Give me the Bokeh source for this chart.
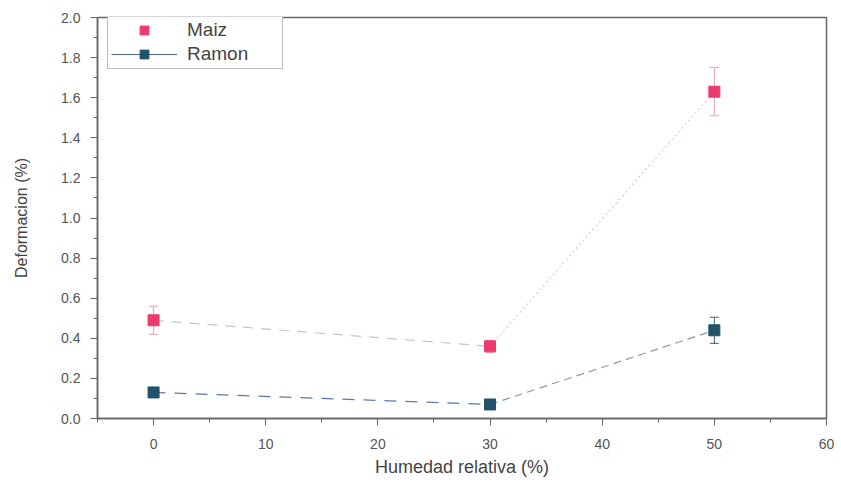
from bokeh.plotting import figure
from bokeh.models import Range1d, Legend, LegendItem, FixedTicker, CustomJSTickFormatter
from bokeh.embed import file_html
from bokeh.resources import INLINE

humedad = [0, 30, 50]
maiz = [0.49, 0.36, 1.63]
maiz_err = [0.07, 0.03, 0.12]
ramon = [0.13, 0.07, 0.44]
ramon_err = [0.02, 0.02, 0.065]

x_ticks = [0, 10, 20, 30, 40, 50, 60]
x_minor = [-5, 5, 15, 25, 35, 45, 55]
y_ticks = [0.0, 0.2, 0.4, 0.6, 0.8, 1.0, 1.2, 1.4, 1.6, 1.8, 2.0]
y_minor = [0.1, 0.3, 0.5, 0.7, 0.9, 1.1, 1.3, 1.5, 1.7, 1.9]

FONT = "Liberation Sans"
PINK = "#ec3a6e"
TEAL = "#23536a"
NAN = float("nan")

p = figure(width=841, height=484, output_backend="svg", toolbar_location=None,
           x_range=Range1d(-5, 60), y_range=Range1d(0, 2.0),
           min_border_left=97, min_border_right=15, min_border_top=17, min_border_bottom=66)
p.background_fill_color = "white"
p.border_fill_color = "white"
p.outline_line_color = "#666666"
p.outline_line_width = 1.5
p.grid.visible = False

p.xaxis.ticker = FixedTicker(ticks=x_ticks, minor_ticks=x_minor)
p.yaxis.ticker = FixedTicker(ticks=y_ticks, minor_ticks=y_minor)
p.yaxis.formatter = CustomJSTickFormatter(code="return tick.toFixed(1);")

for ax in (p.xaxis[0], p.yaxis[0]):
    ax.axis_line_color = "#666666"
    ax.axis_line_width = 1.5
    ax.major_tick_line_color = "#666666"
    ax.minor_tick_line_color = "#666666"
    ax.major_tick_out = 7
    ax.major_tick_in = 0
    ax.minor_tick_out = 4
    ax.minor_tick_in = 0
    ax.major_label_text_font = FONT
    ax.major_label_text_font_size = "14px"
    ax.major_label_text_color = "#555555"
    ax.axis_label_text_font = FONT
    ax.axis_label_text_font_style = "normal"
    ax.axis_label_text_color = "#444444"

p.xaxis.axis_label = "Humedad relativa (%)"
p.yaxis.axis_label = "Deformacion (%)"
p.xaxis.axis_label_text_font_size = "18px"
p.yaxis.axis_label_text_font_size = "16px"
p.xaxis.major_label_standoff = 13
p.yaxis.major_label_standoff = 10
p.xaxis.axis_label_standoff = 5
p.yaxis.axis_label_standoff = 28

# lines (left part dashed grey/blue, right part dotted)
p.line(humedad[:2], maiz[:2], line_color="#c9c3c8", line_width=1.2, line_dash="10 8")
p.line(humedad[1:], maiz[1:], line_color="#e3c8d0", line_width=1.2, line_dash="2 3")
p.line(humedad[:2], ramon[:2], line_color="#5a78b0", line_width=1.2, line_dash="12 9")
p.line(humedad[1:], ramon[1:], line_color="#8a9aa8", line_width=1.2, line_dash="8 5")

# error bars
def errbars(xs, ys, es, color):
    lo = [y - e for y, e in zip(ys, es)]
    hi = [y + e for y, e in zip(ys, es)]
    p.segment(xs, lo, xs, hi, line_color=color, line_width=1)
    p.scatter(xs, lo, marker="dash", size=9, line_color=color, line_width=1)
    p.scatter(xs, hi, marker="dash", size=9, line_color=color, line_width=1)

errbars(humedad, maiz, maiz_err, "#e8a0b4")
errbars(humedad, ramon, ramon_err, "#3a5f70")

p.scatter(humedad, maiz, marker="square", size=11, fill_color=PINK, line_color=PINK)
p.scatter(humedad, ramon, marker="square", size=11, fill_color=TEAL, line_color=TEAL)

# legend-only glyphs (a single NaN point, nothing drawn in the plot)
leg_m = p.scatter([NAN], [NAN], marker="square", size=8, fill_color=PINK, line_color=PINK)
leg_rl = p.line([NAN, NAN], [NAN, NAN], line_color="#4a6590", line_width=1)
leg_rm = p.scatter([NAN], [NAN], marker="square", size=8, fill_color=TEAL, line_color=TEAL)

legend = Legend(items=[LegendItem(label="Maiz", renderers=[leg_m]),
                       LegendItem(label="Ramon", renderers=[leg_rl, leg_rm])],
                location=(10, 349))
legend.label_text_font = FONT
legend.label_text_font_size = "19px"
legend.label_text_color = "#444444"
legend.border_line_color = "#777777"
legend.border_line_width = 1
legend.padding = 3
legend.spacing = 2
legend.glyph_width = 66
legend.glyph_height = 22
legend.label_height = 22
legend.label_width = 92
legend.label_standoff = 10
legend.margin = 0
legend.background_fill_alpha = 1
p.add_layout(legend, "center")

open("out.html", "w").write(file_html(p, INLINE))
